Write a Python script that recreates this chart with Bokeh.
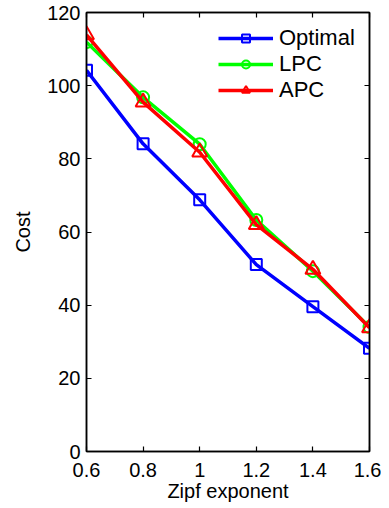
from bokeh.plotting import figure
from bokeh.models import LinearAxis, FixedTicker, Range1d, Legend
from bokeh.embed import file_html
from bokeh.resources import INLINE

x = [0.6, 0.8, 1.0, 1.2, 1.4, 1.6]
optimal = [104.2, 84.1, 68.8, 51.1, 39.6, 28.2]
lpc = [111.9, 96.8, 84.0, 63.3, 49.3, 34.0]
apc = [113.9, 95.5, 81.8, 62.0, 49.8, 33.8]

x_ticks = [0.6, 0.8, 1.0, 1.2, 1.4, 1.6]
x_tick_labels = ["0.6", "0.8", "1", "1.2", "1.4", "1.6"]
y_ticks = [0, 20, 40, 60, 80, 100, 120]

FONT = "Liberation Sans"

p = figure(frame_width=283, frame_height=439, output_backend="svg",
           toolbar_location=None, x_range=Range1d(0.6, 1.6), y_range=Range1d(0, 120),
           min_border_left=86, min_border_top=12, min_border_right=12, min_border_bottom=40,
           background_fill_color="white", border_fill_color="white")
p.xgrid.visible = False
p.ygrid.visible = False
p.outline_line_color = "black"
p.outline_line_width = 1.5

def style_axis(ax, ticks, labels=None):
    ax.ticker = FixedTicker(ticks=ticks)
    ax.major_tick_in = 5
    ax.major_tick_out = 0
    ax.minor_tick_in = 0
    ax.minor_tick_out = 0
    ax.axis_line_color = "black"
    ax.axis_line_width = 1.5
    ax.major_tick_line_color = "black"
    ax.major_tick_line_width = 1.2
    ax.major_label_text_font = FONT
    ax.major_label_text_font_size = "20px"
    ax.major_label_text_color = "black"
    ax.axis_label_text_font = FONT
    ax.axis_label_text_font_size = "20px"
    ax.axis_label_text_font_style = "normal"
    ax.axis_label_text_color = "black"
    if labels is not None:
        ax.major_label_overrides = labels

style_axis(p.xaxis[0], x_ticks, {t: l for t, l in zip(x_ticks, x_tick_labels)})
p.xaxis[0].axis_label = "Zipf exponent"
p.xaxis[0].major_label_standoff = 11
p.xaxis[0].axis_label_standoff = 0
style_axis(p.yaxis[0], y_ticks)
p.yaxis[0].axis_label = "Cost"
p.yaxis[0].major_label_standoff = 6
p.yaxis[0].axis_label_standoff = 10

top = LinearAxis()
style_axis(top, x_ticks, {t: "" for t in x_ticks})
top.major_label_standoff = 0
top.major_label_text_font_size = "0px"
p.add_layout(top, "above")
right = LinearAxis()
style_axis(right, y_ticks, {t: "" for t in y_ticks})
right.major_label_standoff = 0
right.major_label_text_font_size = "0px"
p.add_layout(right, "right")

r1 = p.line(x, optimal, color="#0000ff", line_width=3.5)
s1 = p.scatter(x, optimal, marker="square", size=11, line_color="#0000ff", line_width=2, fill_color=None)
r2 = p.line(x, lpc, color="#00ff00", line_width=3.5)
s2 = p.scatter(x, lpc, marker="circle", size=12, line_color="#00ff00", line_width=2, fill_color=None)
r3 = p.line(x, apc, color="#ff0000", line_width=3.5)
s3 = p.scatter(x, apc, marker="triangle", size=15, line_color="#ff0000", line_width=2, fill_color=None)

legend = Legend(items=[("Optimal", [r1, s1]), ("LPC", [r2, s2]), ("APC", [r3, s3])],
                location=(132, 348))
legend.glyph_width = 55
legend.glyph_height = 20
legend.label_height = 20
legend.spacing = 0
legend.padding = 0
legend.margin = 0
legend.label_standoff = 6
legend.border_line_color = None
legend.background_fill_alpha = 0
legend.label_text_font = FONT
legend.label_text_font_size = "22px"
legend.label_text_color = "black"
p.add_layout(legend, "center")

open("out.html", "w").write(file_html(p, INLINE))
